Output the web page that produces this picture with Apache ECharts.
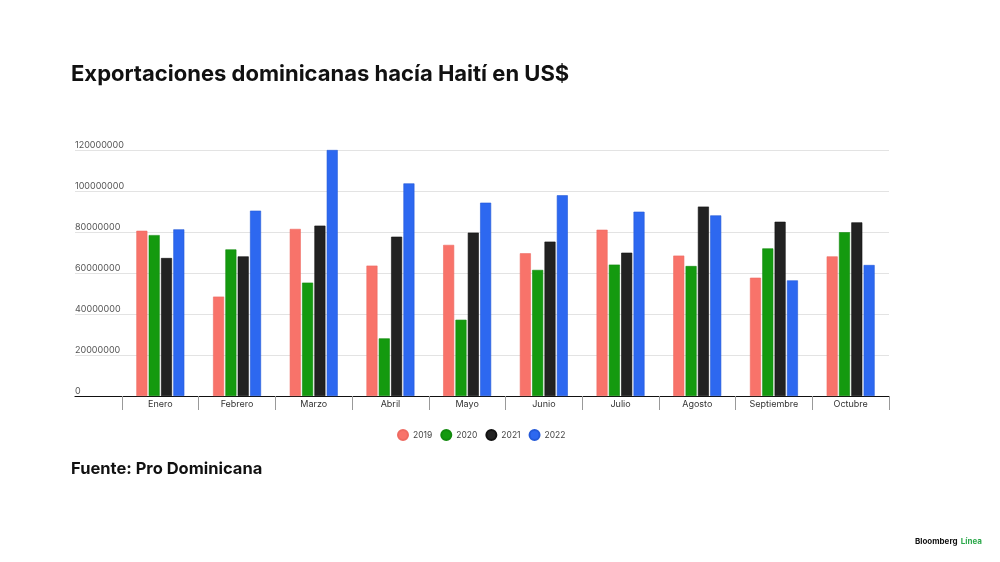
<!DOCTYPE html>
<html>
<head>
<meta charset="utf-8">
<script src="https://cdn.jsdelivr.net/npm/echarts@6/dist/echarts.min.js"></script>
<style>
html,body{margin:0;padding:0;background:#fff;}
#c{width:1000px;height:562px;}
</style>
</head>
<body>
<div id="c"></div>
<script>
var categories = ['Enero','Febrero','Marzo','Abril','Mayo','Junio','Julio','Agosto','Septiembre','Octubre'];
var years = ['2019','2020','2021','2022'];
var v2019 = [80600000, 48500000, 81500000, 63600000, 73700000, 69600000, 81100000, 68500000, 57700000, 68100000];
var v2020 = [78500000, 71500000, 55300000, 28100000, 37200000, 61500000, 64100000, 63400000, 72000000, 79900000];
var v2021 = [67300000, 68100000, 83100000, 77700000, 79700000, 75300000, 69900000, 92400000, 85000000, 84700000];
var v2022 = [81300000, 90400000, 120000000, 103700000, 94300000, 97900000, 89900000, 88100000, 56400000, 63900000];
var yTicks = [0, 20000000, 40000000, 60000000, 80000000, 100000000, 120000000];

var colors = ['#F8736A', '#149A0F', '#222222', '#2D68F0'];
var borders = ['#EE6A61', '#118A0D', '#111111', '#2459D8'];
var seriesValues = [v2019, v2020, v2021, v2022];

var font = 'Inter, "Noto Sans", sans-serif';
var chart = echarts.init(document.getElementById('c'), null, {renderer: 'canvas'});

var series = years.map(function (y, i) {
  return {
    name: y,
    type: 'bar',
    xAxisIndex: 1,
    yAxisIndex: 1,
    data: seriesValues[i],
    barWidth: 11,
    barGap: '12%',
    itemStyle: {color: colors[i], borderColor: borders[i], borderWidth: 0.6},
    emphasis: {disabled: true},
    clip: false
  };
});

chart.setOption({
  animation: false,
  backgroundColor: '#fff',
  color: colors,
  title: {
    text: 'Exportaciones dominicanas hacía Haití en US$',
    left: 66, top: 58,
    textStyle: {fontFamily: font, fontSize: 22, fontWeight: 'bold', color: '#111', letterSpacing: -0.6}
  },
  legend: {
    data: years,
    left: 392, top: 424,
    icon: 'circle',
    itemWidth: 10, itemHeight: 10, itemGap: 8, itemTextGap: 5,
    textStyle: {fontFamily: font, fontSize: 8.5, color: '#444'}
  },
  grid: [
    {left: 75, right: 111, top: 150, bottom: 166},
    {left: 122, right: 111, top: 150, bottom: 166}
  ],
  xAxis: [
    {
      gridIndex: 0, type: 'value', min: 0, max: 1,
      axisLine: {show: true, onZero: false, lineStyle: {color: '#111', width: 1.2}},
      axisTick: {show: false}, axisLabel: {show: false}, splitLine: {show: false}
    },
    {
      gridIndex: 1, type: 'category', data: categories,
      axisLine: {show: false},
      axisTick: {show: true, length: 14, lineStyle: {color: '#999', width: 1}},
      axisLabel: {fontFamily: font, fontSize: 9, color: '#333', margin: 4},
      splitLine: {show: false}
    }
  ],
  yAxis: [
    {
      gridIndex: 0, type: 'value', min: yTicks[0], max: yTicks[yTicks.length - 1], interval: 20000000,
      axisLine: {show: false}, axisTick: {show: false},
      axisLabel: {inside: true, margin: 0, align: 'left', verticalAlign: 'bottom', padding: [0, 0, 0, 0],
                  fontFamily: font, fontSize: 9, color: '#555',
                  formatter: function (v) { return String(v); }},
      splitLine: {show: true, lineStyle: {color: '#e3e3e3', width: 1}}
    },
    {
      gridIndex: 1, type: 'value', min: yTicks[0], max: yTicks[yTicks.length - 1], interval: 20000000,
      axisLine: {show: false}, axisTick: {show: false}, axisLabel: {show: false}, splitLine: {show: false}
    }
  ],
  graphic: [
    {
      type: 'text', left: 71, top: 461,
      style: {text: 'Fuente: Pro Dominicana', fontFamily: font, fontSize: 16.5, fontWeight: 'bold', fill: '#111'}
    },
    {
      type: 'text', left: 915, top: 536,
      style: {
        text: '{a|Bloomberg} {b|Línea}',
        rich: {
          a: {fontFamily: font, fontSize: 8, fontWeight: 'bold', fill: '#111', color: '#111'},
          b: {fontFamily: font, fontSize: 8, fontWeight: 'bold', fill: '#2BA84A', color: '#2BA84A'}
        }
      }
    }
  ],
  series: series
});
</script>
</body>
</html>
